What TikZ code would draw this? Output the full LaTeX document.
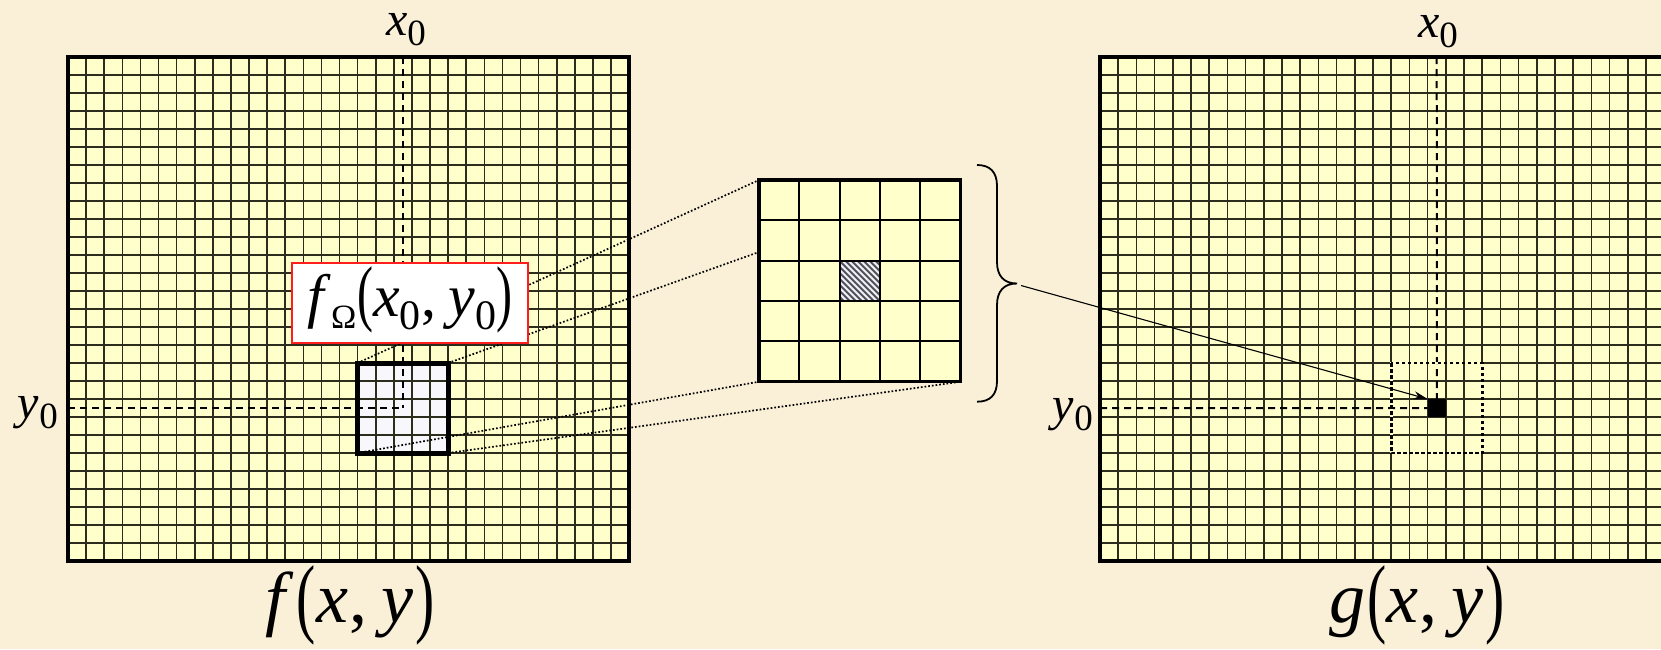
\documentclass[tikz,border=0pt]{standalone}
\usepackage{fontspec}
\setmainfont{Liberation Serif}
\usepackage{graphicx}
\usetikzlibrary{arrows.meta}
\definecolor{bgcol}{RGB}{250,240,216}
\definecolor{cellfill}{RGB}{255,255,204}
\definecolor{gridcol}{RGB}{45,45,30}
\definecolor{winfill}{RGB}{248,248,252}
\definecolor{redcol}{RGB}{255,30,30}
\definecolor{hatchcol}{RGB}{80,80,95}
\newcommand{\smallp}[1]{\raisebox{-1pt}{\scalebox{0.8}[1.22]{#1}}}
\newcommand{\bigpar}[1]{\raisebox{-4pt}{\scalebox{0.8}[1.22]{#1}}}
\begin{document}
\begin{tikzpicture}[x=1pt,y=-1pt,
  gridln/.style={gridcol, line width=1.6pt},
  frame/.style={black, line width=4pt},
  dashln/.style={black, line width=2pt, dash pattern=on 7pt off 5pt},
  dotln/.style={black, line width=1.7pt, dash pattern=on 1.7pt off 2pt},
  lbl/.style={inner sep=0pt, anchor=base},
  bracepath/.style={black, line width=1.8pt},
  arrowln/.style={black, line width=1.1pt, -{Stealth[length=14pt,width=8pt]}}]
\useasboundingbox (0,0) rectangle (1661,649);
\fill[bgcol] (0,0) rectangle (1661,649);

% ---------- left grid ----------
\fill[cellfill] (68,57) rectangle (629,561);
\foreach \i in {1,...,30} \draw[gridln] ({68+\i*18.1},57) -- ({68+\i*18.1},561);
\foreach \j in {1,...,27} \draw[gridln] (68,{57+\j*18}) -- (629,{57+\j*18});
% window
\coordinate (wNW) at (357.6,363);
\coordinate (wNE) at (448.1,363);
\coordinate (wSW) at (357.6,453);
\coordinate (wSE) at (448.1,453);
\fill[winfill] (wNW) rectangle (wSE);
\foreach \i in {1,...,4} \draw[gridln] ({357.6+\i*18.1},363) -- ({357.6+\i*18.1},453);
\foreach \j in {1,...,4} \draw[gridln] (357.6,{363+\j*18}) -- (448.1,{363+\j*18});
% dashed coordinate lines
\coordinate (cL) at (402.9,408);
\coordinate (topL) at (402.9,57);
\coordinate (leftL) at (68,408);
\draw[dashln] (topL) -- (cL);
\draw[dashln] (leftL) -- (cL);
\draw[frame] (68,57) rectangle (629,561);
\draw[black, line width=5pt] (wNW) rectangle (wSE);

% ---------- middle grid corners ----------
\coordinate (mNW) at (759,180);
\coordinate (mNE) at (960.7,180);
\coordinate (mSW) at (759,381.7);
\coordinate (mSE) at (960.7,381.7);
% dotted connectors
\draw[dotln] (wNW) -- (mNW);
\draw[dotln] (wNE) -- (mNE);
\draw[dotln] (wSW) -- (mSW);
\draw[dotln] (wSE) -- (mSE);

% red label box
\node[draw=redcol, line width=2pt, fill=white, inner sep=0pt,
      minimum width=236.6pt, text height=54pt, text depth=26.6pt, align=center] (fom) at (410,303)
  {\fontsize{60}{62}\selectfont\textit{f}\raisebox{-12pt}{\fontsize{34}{36}\selectfont Ω}\kern1pt\smallp{(}\textit{x}\raisebox{-13pt}{\fontsize{42}{44}\selectfont 0}\kern1pt,\kern12pt\textit{y}\raisebox{-13pt}{\fontsize{42}{44}\selectfont 0}\smallp{)}};

% middle grid
\fill[cellfill] (mNW) rectangle (mSE);
\begin{scope}
\clip (839.7,261) rectangle (880,301.3);
\fill[white!88!gray] (839.7,261) rectangle (880,301.3);
\foreach \k in {-48,-42,...,48} \draw[hatchcol, line width=2pt] ({839.7+\k},261) -- ({880+\k},301.3);
\end{scope}
\foreach \i in {1,...,4} \draw[black, line width=1.8pt] ({759+\i*40.34},180) -- ({759+\i*40.34},381.7);
\foreach \j in {1,...,4} \draw[black, line width=1.8pt] (759,{180+\j*40.34}) -- (960.7,{180+\j*40.34});
\draw[black, line width=1.8pt] (839.7,261) rectangle (880,301.3);
\draw[black, line width=3.5pt] (mNW) rectangle (mSE);

% brace
\coordinate (brTop) at (977,165);
\coordinate (brTip) at (1017,283.5);
\coordinate (brBot) at (977,401.7);
\draw[bracepath] (brTop) .. controls (990,165) and (997,172) .. (997,186) -- (997,262)
  .. controls (997,276) and (1004,283.5) .. (brTip)
  .. controls (1004,283.5) and (997,291) .. (997,305) -- (997,381)
  .. controls (997,395) and (990,401.7) .. (brBot);

% ---------- right grid ----------
\fill[cellfill] (1100,57) rectangle (1664.2,561);
\foreach \i in {1,...,30} \draw[gridln] ({1100+\i*18.2},57) -- ({1100+\i*18.2},561);
\foreach \j in {1,...,27} \draw[gridln] (1100,{57+\j*18}) -- (1664.2,{57+\j*18});
\draw[frame] (1100,57) rectangle (1664.2,561);
\node[fill=black, inner sep=0pt, minimum width=18.2pt, minimum height=18pt, anchor=north west] (blk) at (1427.6,399) {};
\coordinate (topR) at (1436.7,57);
\coordinate (leftR) at (1100,408);
\draw[dashln] (topR) -- (blk.north);
\draw[dashln] (leftR) -- (blk.west);
\draw[cellfill, line width=2.6pt] (1391.2,363) rectangle (1482.2,453);
\draw[black, line width=2.6pt, dash pattern=on 3.5pt off 2.5pt] (1391.2,363) rectangle (1482.2,453);

% arrow
\coordinate (arrS) at (1021,285.5);
\draw[arrowln] (arrS) -- (blk.north west);

% ---------- labels ----------
\node[lbl] (x0L) at (406,35) {\fontsize{48}{50}\selectfont\textit{x}\raisebox{-10pt}{\fontsize{37}{38}\selectfont 0}};
\node[lbl] (x0R) at (1438,37) {\fontsize{48}{50}\selectfont\textit{x}\raisebox{-10pt}{\fontsize{37}{38}\selectfont 0}};
\node[inner sep=0pt, anchor=base east] (y0L) at (58,418) {\fontsize{48}{50}\selectfont\textit{y}\raisebox{-10pt}{\fontsize{37}{38}\selectfont 0}};
\node[inner sep=0pt, anchor=base east] (y0R) at (1093,420) {\fontsize{48}{50}\selectfont\textit{y}\raisebox{-10pt}{\fontsize{37}{38}\selectfont 0}};
\node[lbl] (flbl) at (350,622) {\fontsize{72}{74}\selectfont\textit{f}\kern3pt\bigpar{(}\textit{x}\kern1pt,\kern14pt\textit{y}\kern2pt\bigpar{)}};
\node[lbl] (glbl) at (1417,622) {\fontsize{72}{74}\selectfont\textit{g}\kern2pt\bigpar{(}\textit{x}\kern1pt,\kern14pt\textit{y}\kern2pt\bigpar{)}};
\end{tikzpicture}
\end{document}
